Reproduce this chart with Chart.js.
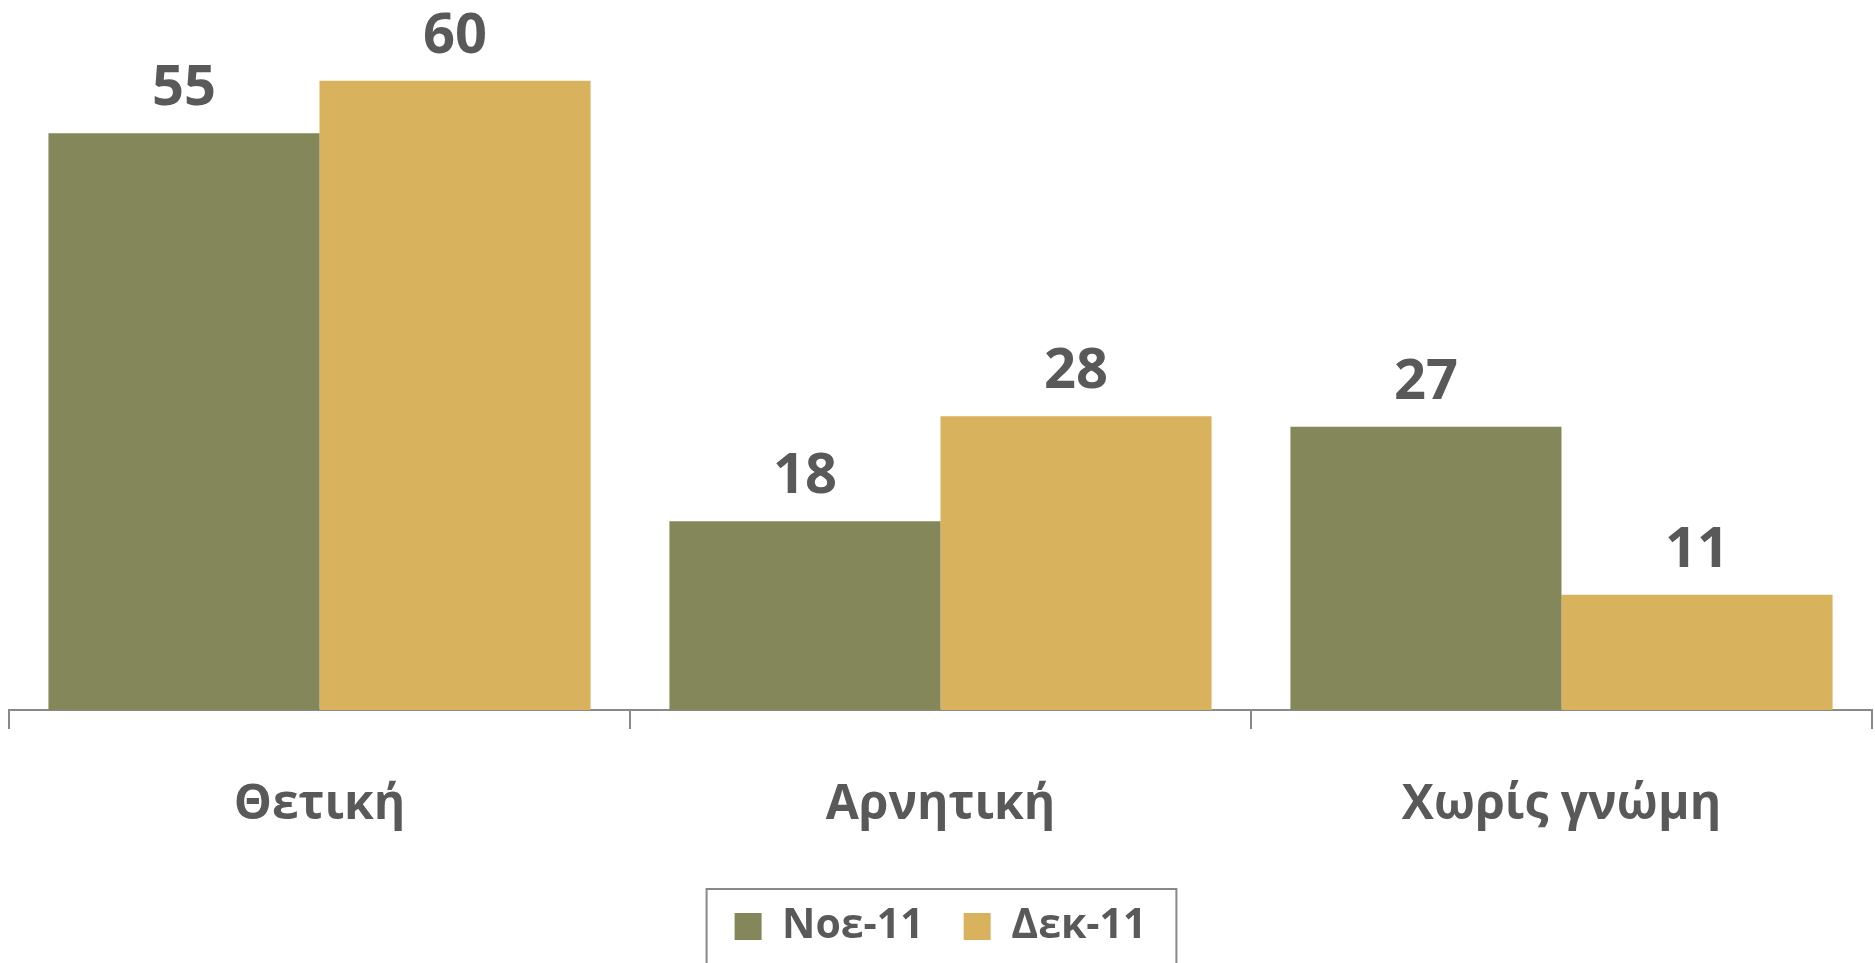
<!DOCTYPE html>
<html>
<head>
<meta charset="utf-8">
<script src="https://cdn.jsdelivr.net/npm/chart.js@4/dist/chart.umd.min.js"></script>
<style>
  html, body { margin: 0; padding: 0; background: #ffffff; }
  #wrap { width: 1875px; height: 963px; position: relative; }
</style>
</head>
<body>
<div id="wrap"><canvas id="c" width="1875" height="963"></canvas></div>
<script>
const categories = ['Θετική', 'Αρνητική', 'Χωρίς γνώμη'];
const seriesNames = ['Νοε-11', 'Δεκ-11'];
const nov11 = [55, 18, 27];
const dec11 = [60, 28, 11];

const FONT = "'Open Sans', 'Noto Sans', 'DejaVu Sans', sans-serif";
const TEXT = '#595959';
const AXIS = '#898989';

const valueLabels = {
  id: 'valueLabels',
  afterDatasetsDraw(chart) {
    const ctx = chart.ctx;
    ctx.save();
    ctx.fillStyle = TEXT;
    ctx.font = 'bold 56px ' + FONT;
    ctx.textAlign = 'center';
    ctx.textBaseline = 'alphabetic';
    chart.data.datasets.forEach((ds, i) => {
      const meta = chart.getDatasetMeta(i);
      meta.data.forEach((bar, j) => {
        ctx.fillText(String(ds.data[j]), bar.x, bar.y - 28);
      });
    });
    ctx.restore();
  }
};

const legendBorder = {
  id: 'legendBorder',
  afterDraw(chart) {
    const lg = chart.legend;
    if (!lg || !lg.legendHitBoxes || !lg.legendHitBoxes.length) return;
    const hb = lg.legendHitBoxes;
    const first = hb[0], last = hb[hb.length - 1];
    const ctx = chart.ctx;
    ctx.save();
    ctx.strokeStyle = AXIS;
    ctx.lineWidth = 2;
    const x0 = first.left - 28;
    const x1 = last.left + last.width + 30;
    const y0 = first.top - 17;
    ctx.strokeRect(x0, y0, x1 - x0, 200);
    ctx.restore();
  }
};

new Chart(document.getElementById('c'), {
  type: 'bar',
  data: {
    labels: categories,
    datasets: [
      { label: seriesNames[0], data: nov11, backgroundColor: '#83875A', borderWidth: 0,
        categoryPercentage: 0.873, barPercentage: 1.0 },
      { label: seriesNames[1], data: dec11, backgroundColor: '#D8B25D', borderWidth: 0,
        categoryPercentage: 0.873, barPercentage: 1.0 }
    ]
  },
  options: {
    responsive: false,
    animation: false,
    devicePixelRatio: 1,
    layout: { padding: { left: 9, right: 3, top: 0, bottom: 6 } },
    plugins: {
      legend: {
        display: true,
        position: 'bottom',
        labels: {
          boxWidth: 27,
          boxHeight: 27,
          padding: 40,
          color: TEXT,
          font: { family: FONT, size: 41, weight: 'bold' }
        }
      },
      tooltip: { enabled: false }
    },
    scales: {
      x: {
        grid: {
          display: true,
          drawOnChartArea: false,
          drawTicks: true,
          tickLength: 19,
          color: AXIS,
          lineWidth: 2
        },
        border: { display: true, color: AXIS, width: 2 },
        ticks: {
          color: TEXT,
          padding: 48,
          font: { family: FONT, size: 48, weight: 'bold' }
        },
        afterFit(scale) { scale.height = 156; }
      },
      y: {
        display: false,
        min: 0,
        max: 67.7
      }
    }
  },
  plugins: [valueLabels, legendBorder]
});
</script>
</body>
</html>
